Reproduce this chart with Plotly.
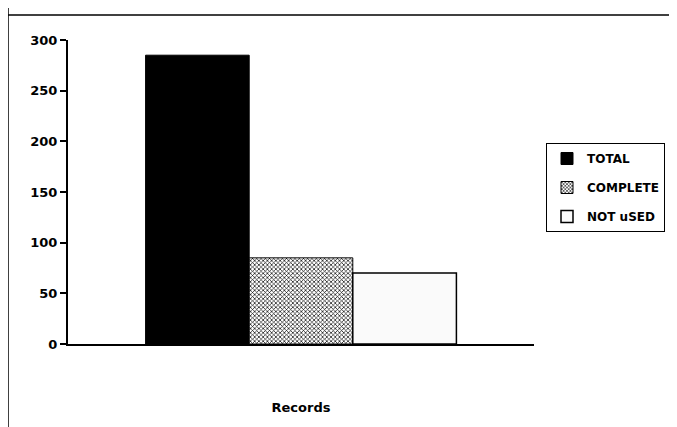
import plotly.graph_objects as go

categories = ["Records"]
series_names = ["TOTAL", "COMPLETE", "NOT uSED"]
total_vals = [285]
complete_vals = [85]
notused_vals = [70]
y_ticks = [0, 50, 100, 150, 200, 250, 300]

OFF = 8  # page body margin offset
W, H = 677, 427
L, R, T, B = 68 - OFF, 534 - OFF, 40 - OFF, 344 - OFF  # plot area in px

FONT = "DejaVu Sans"

fig = go.Figure()
fig.add_trace(go.Bar(
    name=series_names[0], x=categories, y=total_vals,
    marker=dict(color="black", line=dict(color="black", width=1)),
    legendgroup="a",
))
fig.add_trace(go.Bar(
    name=series_names[1], x=categories, y=complete_vals,
    marker=dict(color="white", line=dict(color="black", width=1),
                pattern=dict(shape="x", size=3, solidity=0.4,
                             fgcolor="black", bgcolor="white", fillmode="replace")),
    legendgroup="b",
))
fig.add_trace(go.Bar(
    name=series_names[2], x=categories, y=notused_vals,
    marker=dict(color="#fafafa", line=dict(color="black", width=1.5)),
    legendgroup="c",
))

def px_x(p):
    return (p - OFF - L) / (R - L)

def px_y(p):
    return (B - (p - OFF)) / (B - T)

shapes = [
    dict(type="line", xref="paper", yref="paper",
         x0=px_x(8), x1=px_x(8), y0=px_y(0), y1=px_y(440),
         line=dict(color="black", width=1.5)),
    dict(type="line", xref="paper", yref="paper",
         x0=px_x(8), x1=px_x(690), y0=px_y(15), y1=px_y(15),
         line=dict(color="black", width=1.5)),
]

fig.update_layout(
    width=W, height=H,
    margin=dict(l=L, r=W - R, t=T, b=H - B, pad=0),
    paper_bgcolor="white", plot_bgcolor="white",
    barmode="group", bargap=0.333, bargroupgap=0,
    font=dict(family=FONT, size=12, color="black"),
    showlegend=True,
    legend=dict(
        x=px_x(546), y=px_y(143), xanchor="left", yanchor="top",
        bordercolor="black", borderwidth=1, bgcolor="white",
        font=dict(family=FONT, size=12, color="black", weight="bold"),
        traceorder="grouped", tracegroupgap=10,
        itemwidth=30,
    ),
    shapes=shapes,
    xaxis=dict(
        showticklabels=False, ticks="", showline=True, linecolor="black",
        linewidth=2, showgrid=False, zeroline=False,
        title=dict(text="Records", standoff=58,
                   font=dict(family=FONT, size=13, color="black", weight="bold")),
    ),
    yaxis=dict(
        range=[0, 300], tickvals=y_ticks, ticks="outside", ticklen=6,
        tickwidth=1.5, tickcolor="black", showline=True, linecolor="black",
        linewidth=2, showgrid=False, zeroline=False,
        tickfont=dict(family=FONT, size=13, color="black", weight="bold"),
    ),
)

fig.write_html("out.html")
